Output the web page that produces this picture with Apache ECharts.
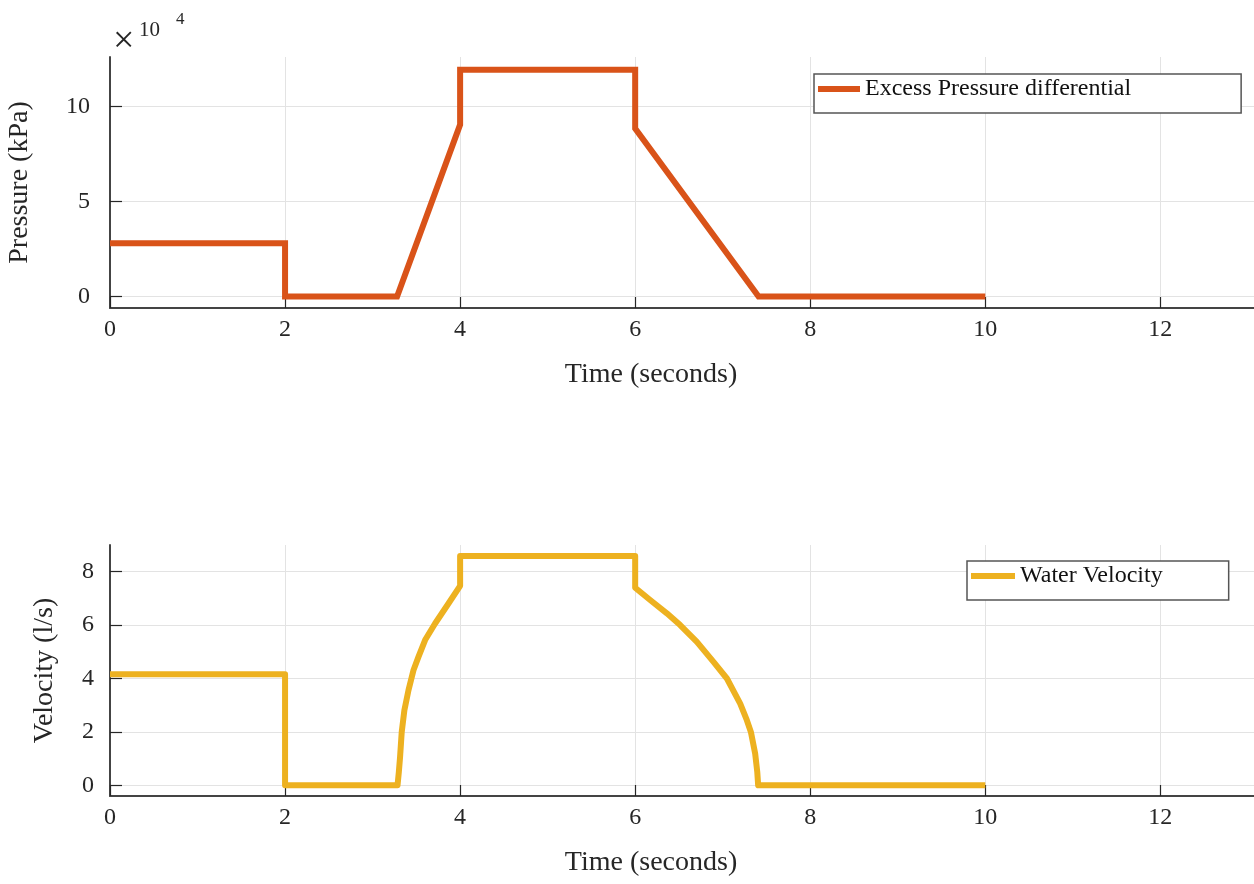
<!DOCTYPE html>
<html>
<head>
<meta charset="utf-8">
<script src="https://cdn.jsdelivr.net/npm/echarts@6/dist/echarts.min.js"></script>
<style>html,body{margin:0;padding:0;background:#fff}#c{width:1254px;height:884px}</style>
</head>
<body>
<div id="c"></div>
<script>
// ---- data ----
const pressureTime   = [0, 2, 2, 3.28, 4, 4, 6, 6, 7.41, 10];
const pressureValues = [2.8, 2.8, 0, 0, 9.04, 11.93, 11.93, 8.83, 0, 0]; // x 10^4
const velocityTime   = [0, 2, 2, 3.285, 3.3, 3.314, 3.333, 3.363, 3.41, 3.467, 3.524, 3.6, 3.714, 3.867, 4, 4,
                        6, 6, 6.171, 6.362, 6.514, 6.705, 6.895, 7.048, 7.2, 7.276, 7.322, 7.371, 7.395, 7.405, 10];
const velocityValues = [4.16, 4.16, 0, 0, 0.5, 1.06, 2.0, 2.81, 3.56, 4.31, 4.81, 5.44, 6.06, 6.81, 7.47, 8.59,
                        8.59, 7.4, 6.94, 6.44, 6.0, 5.37, 4.62, 4.0, 3.06, 2.44, 2.0, 1.19, 0.5, 0, 0];
const xTicks = [0, 2, 4, 6, 8, 10, 12];
const pressureTicks = [0, 5, 10];
const velocityTicks = [0, 2, 4, 6, 8];

const serif = '"Liberation Serif", "DejaVu Serif", serif';
const dark = '#262626';
const zip = (a, b) => a.map((v, i) => [v, b[i]]);

function xAxis(gi) {
  return {
    type: 'value', gridIndex: gi, min: 0, max: 13.07, interval: 2,
    name: 'Time (seconds)', nameLocation: 'middle', nameGap: 53,
    nameTextStyle: { fontFamily: serif, fontSize: 28, color: dark, padding: [0, 62, 0, 0] },
    axisLine: { show: true, onZero: false, lineStyle: { color: '#444', width: 2 } },
    axisTick: { show: true, inside: true, length: 11, lineStyle: { color: dark, width: 1.2 } },
    axisLabel: { fontFamily: serif, fontSize: 24, color: dark, margin: 10, showMaxLabel: false,
      formatter: v => xTicks.indexOf(v) >= 0 ? String(v) : '' },
    splitLine: { show: true, lineStyle: { color: '#e3e3e3', width: 1 } }
  };
}
function yAxis(gi, opts) {
  return Object.assign({
    type: 'value', gridIndex: gi, nameLocation: 'middle',
    nameTextStyle: { fontFamily: serif, fontSize: 28, color: dark },
    axisLine: { show: true, onZero: false, lineStyle: { color: '#444', width: 2 } },
    axisTick: { show: true, inside: true, length: 12, lineStyle: { color: dark, width: 1.2 },
      customValues: opts.ticks },
    axisLabel: { fontFamily: serif, fontSize: 24, color: dark, margin: opts.margin, customValues: opts.ticks },
    splitLine: { show: true, lineStyle: { color: '#e3e3e3', width: 1 } }
  }, opts.extra);
}

const chart = echarts.init(document.getElementById('c'), null, { renderer: 'canvas' });
chart.setOption({
  backgroundColor: '#fff',
  animation: false,
  grid: [
    { left: 110, top: 57, right: 0, height: 251, outerBoundsMode: 'none', containLabel: false },
    { left: 110, top: 545, right: 0, height: 251, outerBoundsMode: 'none', containLabel: false }
  ],
  xAxis: [xAxis(0), xAxis(1)],
  yAxis: [
    yAxis(0, { ticks: pressureTicks, margin: 20, extra: { min: -0.61, max: 12.6, interval: 5, name: 'Pressure (kPa)', nameGap: 76 } }),
    yAxis(1, { ticks: velocityTicks, margin: 16, extra: { min: -0.4, max: 9.0, interval: 2, name: 'Velocity (l/s)', nameGap: 51 } })
  ],
  legend: [
    { data: ['Excess Pressure differential'], left: 814, top: 74, orient: 'horizontal',
      icon: 'rect', itemWidth: 42, itemHeight: 6, itemGap: 5,
      padding: [3, 110, 12, 4], borderColor: '#555', borderWidth: 1.5, backgroundColor: '#fff',
      textStyle: { fontFamily: serif, fontSize: 24, color: '#111' } },
    { data: ['Water Velocity'], left: 967, top: 561, orient: 'horizontal',
      icon: 'rect', itemWidth: 44, itemHeight: 6, itemGap: 5,
      padding: [3, 66, 12, 4], borderColor: '#555', borderWidth: 1.5, backgroundColor: '#fff',
      textStyle: { fontFamily: serif, fontSize: 24, color: '#111' } }
  ],
  graphic: [
    { type: 'text', left: 113, top: 23, style: { text: '×', fontFamily: serif, fontSize: 38, fill: dark } },
    { type: 'text', left: 139, top: 20, style: { text: '10', fontFamily: serif, fontSize: 21, fill: dark } },
    { type: 'text', left: 176, top: 11, style: { text: '4', fontFamily: serif, fontSize: 17, fill: dark } }
  ],
  series: [
    { name: 'Excess Pressure differential', type: 'line', xAxisIndex: 0, yAxisIndex: 0,
      data: zip(pressureTime, pressureValues), showSymbol: false, symbol: 'none',
      lineStyle: { color: '#D95319', width: 6, join: 'miter' }, itemStyle: { color: '#D95319' } },
    { name: 'Water Velocity', type: 'line', xAxisIndex: 1, yAxisIndex: 1,
      data: zip(velocityTime, velocityValues), showSymbol: false, symbol: 'none',
      lineStyle: { color: '#EDB120', width: 6, join: 'round' }, itemStyle: { color: '#EDB120' } }
  ]
});
</script>
</body>
</html>
